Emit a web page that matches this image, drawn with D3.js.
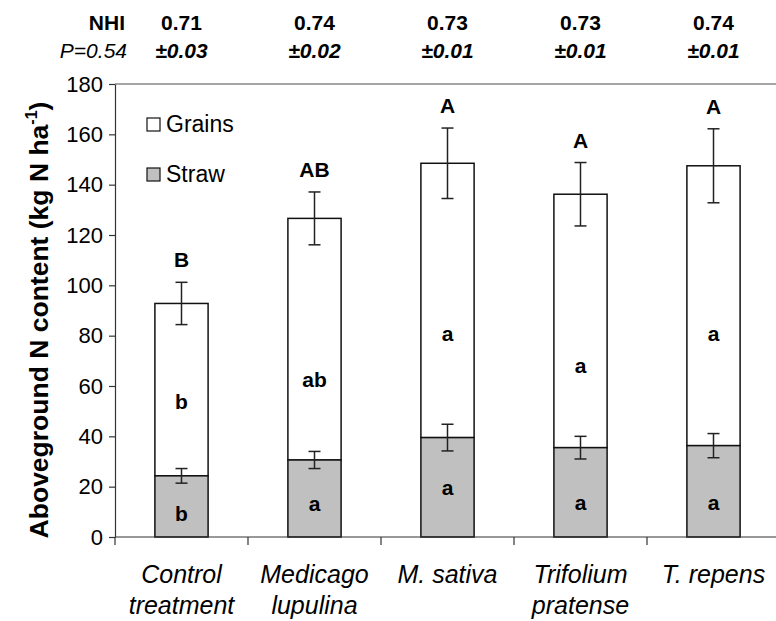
<!DOCTYPE html>
<html><head><meta charset="utf-8">
<script src="https://cdn.jsdelivr.net/npm/d3@7"></script>
<style>
body{margin:0;background:#fff;}
svg{display:block;font-family:"Liberation Sans",Arial,sans-serif;}
</style></head>
<body><svg id="chart" width="776" height="621"></svg>
<script>
const categories = ["Control treatment","Medicago lupulina","M. sativa","Trifolium pratense","T. repens"];
const labelLines = [["Control","treatment"],["Medicago","lupulina"],["M. sativa"],["Trifolium","pratense"],["T. repens"]];
const strawN   = [24.3, 30.6, 39.5, 35.5, 36.3];
const strawErr = [2.9, 3.4, 5.3, 4.5, 4.8];
const grainN   = [68.5, 96.0, 109.0, 100.7, 111.2];
const totalErr = [8.4, 10.5, 14.0, 12.6, 14.7];
const totalLetters = ["B","AB","A","A","A"];
const grainLetters = ["b","ab","a","a","a"];
const strawLetters = ["b","a","a","a","a"];
const grainLetterAt = [53.8, 62.4, 80.9, 68, 80.8];
const strawLetterAt = [9.1, 13.1, 19.6, 13.6, 13.6];
const nhiValues = ["0.71","0.74","0.73","0.73","0.74"];
const nhiSE = ["±0.03","±0.02","±0.01","±0.01","±0.01"];
const yTicks = [0,20,40,60,80,100,120,140,160,180];

const svg = d3.select("#chart");
const x = d3.scaleBand().domain(categories).range([115,780]).padding(0);
const y = d3.scaleLinear().domain([0,180]).range([537,84]);
const bw = x.bandwidth()*0.4;
const cx = c => x(c) + x.bandwidth()/2;

// top border line of plot area
svg.append("line").attr("x1",115).attr("x2",780).attr("y1",y(180)).attr("y2",y(180))
  .attr("stroke","#888").attr("stroke-width",1.5);

// bars
const g = svg.append("g");
categories.forEach((c,i)=>{
  const s = strawN[i], t = strawN[i]+grainN[i];
  g.append("rect").attr("x",cx(c)-bw/2).attr("width",bw)
    .attr("y",y(t)).attr("height",y(s)-y(t))
    .attr("fill","#fff").attr("stroke","#111").attr("stroke-width",1.5);
  g.append("rect").attr("x",cx(c)-bw/2).attr("width",bw)
    .attr("y",y(s)).attr("height",y(0)-y(s))
    .attr("fill","#c0c0c0").attr("stroke","#111").attr("stroke-width",1.5);
});
// error bars
function errBar(xc, v, e){
  const eg = svg.append("g").attr("stroke","#222").attr("stroke-width",1.5);
  eg.append("line").attr("x1",xc).attr("x2",xc).attr("y1",y(v+e)).attr("y2",y(v-e));
  eg.append("line").attr("x1",xc-6).attr("x2",xc+6).attr("y1",y(v+e)).attr("y2",y(v+e));
  eg.append("line").attr("x1",xc-6).attr("x2",xc+6).attr("y1",y(v-e)).attr("y2",y(v-e));
}
categories.forEach((c,i)=>{
  errBar(cx(c), strawN[i], strawErr[i]);
  errBar(cx(c), strawN[i]+grainN[i], totalErr[i]);
});

// letters
categories.forEach((c,i)=>{
  const t = strawN[i]+grainN[i]+totalErr[i];
  svg.append("text").attr("x",cx(c)).attr("y",y(t)-15).attr("text-anchor","middle")
    .attr("font-weight","bold").attr("font-size",21).text(totalLetters[i]);
  svg.append("text").attr("x",cx(c)).attr("y",y(grainLetterAt[i])).attr("dy","0.35em").attr("text-anchor","middle")
    .attr("font-weight","bold").attr("font-size",21).text(grainLetters[i]);
  svg.append("text").attr("x",cx(c)).attr("y",y(strawLetterAt[i])).attr("dy","0.35em").attr("text-anchor","middle")
    .attr("font-weight","bold").attr("font-size",21).text(strawLetters[i]);
});

// y axis
const ya = svg.append("g").attr("transform","translate(115,0)")
  .call(d3.axisLeft(y).tickValues(yTicks).tickSize(6).tickPadding(6).tickSizeOuter(0));
ya.select(".domain").attr("stroke","#333").attr("stroke-width",1.2);
ya.selectAll(".tick line").attr("stroke","#333").attr("stroke-width",1.2);
ya.selectAll(".tick text").attr("font-size",22).attr("font-family","Liberation Sans, Arial, sans-serif").attr("fill","#000");

// x axis
const xa = svg.append("g").attr("stroke","#333").attr("stroke-width",1.2);
xa.append("line").attr("x1",115).attr("x2",780).attr("y1",y(0)).attr("y2",y(0));
categories.concat([null]).forEach((c)=>{
  const xx = c===null ? x.range()[1] : x(c);
  xa.append("line").attr("x1",xx).attr("x2",xx).attr("y1",y(0)).attr("y2",y(0)+8);
});
categories.forEach((c,i)=>{
  labelLines[i].forEach((ln,j)=>{
    svg.append("text").attr("x",cx(c)).attr("y",583+j*31).attr("text-anchor","middle")
      .attr("font-style","italic").attr("font-size",25).text(ln);
  });
});

// y title
const yt = svg.append("text").attr("transform","translate(48,320) rotate(-90)")
  .attr("text-anchor","middle").attr("font-weight","bold").attr("font-size",26.5);
yt.append("tspan").text("Aboveground N content (kg N ha");
yt.append("tspan").attr("font-size",16).attr("dy",-11).text("-1");
yt.append("tspan").attr("dy",11).text(")");

// header NHI
svg.append("text").attr("x",125).attr("y",30).attr("text-anchor","end")
  .attr("font-weight","bold").attr("font-size",21).text("NHI");
svg.append("text").attr("x",127).attr("y",58).attr("text-anchor","end")
  .attr("font-size",21).attr("font-style","italic").text("P=0.54");
categories.forEach((c,i)=>{
  svg.append("text").attr("x",cx(c)).attr("y",30).attr("text-anchor","middle")
    .attr("font-weight","bold").attr("font-size",21).text(nhiValues[i]);
  svg.append("text").attr("x",cx(c)).attr("y",58).attr("text-anchor","middle")
    .attr("font-weight","bold").attr("font-style","italic").attr("font-size",21).text(nhiSE[i]);
});

// legend
const legend = [["Grains","#fff",118],["Straw","#c0c0c0",168]];
legend.forEach(([name,fill,yy])=>{
  svg.append("rect").attr("x",147).attr("y",yy).attr("width",13).attr("height",13)
    .attr("fill",fill).attr("stroke","#111").attr("stroke-width",1.2);
  svg.append("text").attr("x",166).attr("y",yy+14).attr("font-size",23).text(name);
});
</script></body></html>
